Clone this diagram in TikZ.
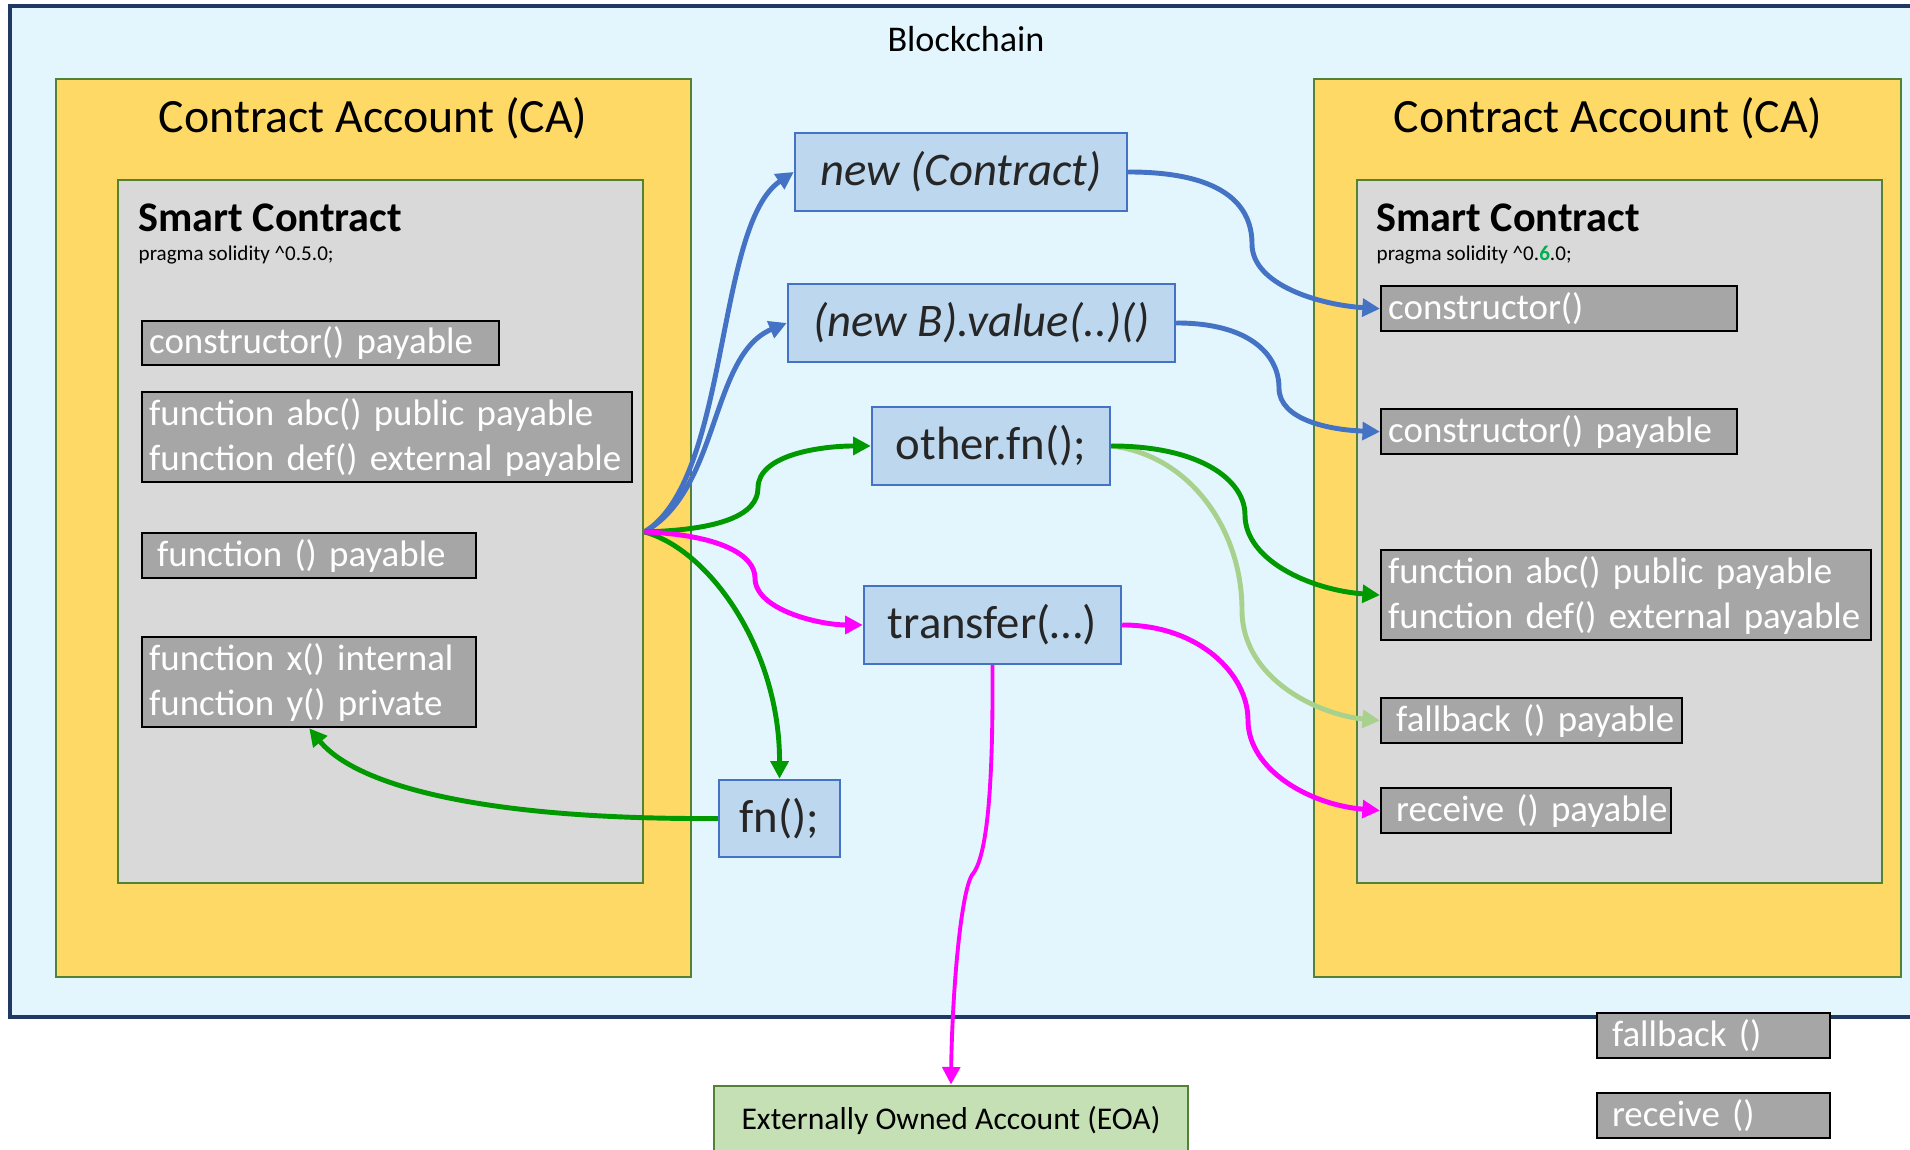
\documentclass[tikz,border=0pt]{standalone}
\usepackage{fontspec}
\setmainfont{Carlito}
\usepackage{tikz}
\usetikzlibrary{positioning, arrows.meta}
\definecolor{chainbg}{HTML}{E3F6FD}
\definecolor{chainline}{HTML}{203864}
\definecolor{cayellow}{HTML}{FFD966}
\definecolor{caline}{HTML}{548235}
\definecolor{scgray}{HTML}{D9D9D9}
\definecolor{fngray}{HTML}{A6A6A6}
\definecolor{callfill}{HTML}{BDD7EE}
\definecolor{callline}{HTML}{4472C4}
\definecolor{eoafill}{HTML}{C5E0B4}
\definecolor{newblue}{HTML}{4472C4}
\definecolor{callgreen}{HTML}{009900}
\definecolor{palegreen}{HTML}{A9D18E}
\definecolor{paymagenta}{HTML}{FF00FF}
\definecolor{versiongreen}{HTML}{00B050}
\tikzset{
  chainbox/.style={rectangle, draw=chainline, line width=1pt, fill=chainbg, inner sep=0pt},
  account/.style={rectangle, draw=caline, line width=0.8pt, fill=cayellow, inner sep=0pt},
  contract/.style={rectangle, draw=caline, line width=0.8pt, fill=scgray, inner sep=0pt},
  fnbox/.style={rectangle, draw=black, line width=0.7pt, fill=fngray, text=white, align=left, inner xsep=0.07cm, inner ysep=0pt, font=\fontsize{10.5}{12.8}\selectfont},
  call/.style={rectangle, draw=callline, line width=0.7pt, fill=callfill, text=black!85, inner sep=0pt, minimum height=0.78cm, font=\fontsize{13.3}{16}\selectfont},
  catitle/.style={inner sep=0pt, font=\fontsize{13.6}{16}\selectfont},
  sctitle/.style={anchor=west, inner sep=0pt, font=\bfseries\fontsize{12}{14}\selectfont},
  pragmatext/.style={anchor=west, inner sep=0pt, font=\fontsize{6}{7}\selectfont},
  arrow/.style={line width=1.4pt, -{Triangle[length=5pt,width=5pt]}}
}

\begin{document}
\begin{tikzpicture}
    \useasboundingbox (0,0) rectangle (19.10,11.5);

    \node (chain) [chainbox, minimum width=19.2cm, minimum height=10.11cm] at (9.70,6.385) {};
    \node (chaintitle) [inner sep=0pt, font=\fontsize{10.3}{12}\selectfont] at (9.66,11.11) {Blockchain};

    % left account
    \node (lca) [account, minimum width=6.35cm, minimum height=8.98cm] at (3.735,6.22) {};
    \node (lcatitle) [catitle] at (3.73,10.32) {Contract Account (CA)};
    \node (lsc) [contract, minimum width=5.25cm, minimum height=7.03cm] at (3.805,6.185) {};
    \node (lsctitle) [sctitle] at (1.38,9.32) {Smart Contract};
    \node (lpragma) [pragmatext] at (1.38,8.95) {pragma solidity \textasciicircum0.5.0;};

    \node (lc1) [fnbox, text width=3.43cm, minimum height=0.44cm, anchor=north west] at (1.41,8.30)
    {\mbox{constructor() payable}};
    \node (lf2) [fnbox, text width=4.76cm, minimum height=0.90cm, below=0.245cm of lc1.south west, anchor=north west]
    {function abc() public payable\\function def() external payable};
    \node (lf3) [fnbox, text width=3.20cm, minimum height=0.45cm, below=0.485cm of lf2.south west, anchor=north west]
    {\mbox{\hspace*{0.08cm}function () payable}};
    \node (lf4) [fnbox, text width=3.20cm, minimum height=0.90cm, below=0.565cm of lf3.south west, anchor=north west]
    {function x() internal\\function y() private};

    % right account
    \node (rca) [account, minimum width=5.87cm, minimum height=8.98cm] at (16.075,6.22) {};
    \node (rcatitle) [catitle] at (16.08,10.32) {Contract Account (CA)};
    \node (rsc) [contract, minimum width=5.25cm, minimum height=7.03cm] at (16.195,6.185) {};
    \node (rsctitle) [sctitle] at (13.76,9.32) {Smart Contract};
    \node (rpragma) [pragmatext] at (13.76,8.95) {pragma solidity \textasciicircum0.\textcolor{versiongreen}{\bfseries 6}.0;};

    \node (rc1) [fnbox, text width=3.42cm, minimum height=0.45cm, anchor=north west] at (13.80,8.65)
    {\mbox{constructor()}};
    \node (rc2) [fnbox, text width=3.42cm, minimum height=0.45cm, below=0.755cm of rc1.south west, anchor=north west]
    {\mbox{constructor() payable}};
    \node (rf3) [fnbox, text width=4.76cm, minimum height=0.90cm, below=0.935cm of rc2.south west, anchor=north west]
    {function abc() public payable\\function def() external payable};
    \node (rfb) [fnbox, text width=2.87cm, minimum height=0.45cm, below=0.555cm of rf3.south west, anchor=north west]
    {\mbox{\hspace*{0.08cm}fallback () payable}};
    \node (rrc) [fnbox, text width=2.76cm, minimum height=0.45cm, below=0.425cm of rfb.south west, anchor=north west]
    {\mbox{\hspace*{0.08cm}receive () payable}};

    % outside the chain
    \node (ofb) [fnbox, text width=2.19cm, minimum height=0.45cm] at (17.135,1.145) {\mbox{\hspace*{0.08cm}fallback ()}};
    \node (orc) [fnbox, text width=2.19cm, minimum height=0.45cm] at (17.135,0.345) {\mbox{\hspace*{0.08cm}receive ()}};
    \node (eoa) [rectangle, draw=caline, line width=0.8pt, fill=eoafill, inner sep=0pt, minimum width=4.74cm, minimum height=0.70cm, font=\fontsize{9}{11}\selectfont] at (9.51,0.29) {Externally Owned Account (EOA)};

    % calls
    \node (newc) [call, minimum width=3.32cm, font=\itshape\fontsize{13.3}{16}\selectfont] at (9.61,9.78) {new (Contract)};
    \node (newb) [call, minimum width=3.87cm, font=\itshape\fontsize{13.3}{16}\selectfont] at (9.815,8.27) {(new B).value(..)()};
    \node (other) [call, minimum width=2.38cm] at (9.91,7.04) {other.fn();};
    \node (transfer) [call, minimum width=2.57cm] at (9.925,5.25) {transfer(…)};
    \node (fn) [call, minimum width=1.21cm, minimum height=0.77cm] at (7.795,3.315) {fn();};

    \coordinate (src) at (lsc.east |- lf3.north);

    % Flechas
    \draw [arrow, newblue] (src) .. controls (7.3,6.7) and (7.15,9.25) .. (newc.west);
    \draw [arrow, newblue] (src) .. controls (7.2,6.6) and (7.1,7.95) .. (newb.west);
    \draw [arrow, newblue] (newc.east) .. controls (12.3,9.78) and (12.52,9.4) .. (12.52,9.06)
      .. controls (12.52,8.65) and (13.2,8.45) .. (rc1.west);
    \draw [arrow, newblue] (newb.east) .. controls (12.5,8.27) and (12.79,7.95) .. (12.79,7.62)
      .. controls (12.79,7.3) and (13.3,7.2) .. (rc2.west);

    \draw [arrow, palegreen] (other.east) .. controls (11.9,6.95) and (12.42,6.2) .. (12.42,5.4)
      .. controls (12.42,4.7) and (13.2,4.35) .. (rfb.west);
    \draw [arrow, callgreen] (src) .. controls (7.2,6.2) and (7.58,6.35) .. (7.58,6.62)
      .. controls (7.58,6.95) and (8.2,7.04) .. (other.west);
    \draw [arrow, callgreen] (other.east) .. controls (12.0,7.04) and (12.45,6.7) .. (12.45,6.35)
      .. controls (12.45,5.9) and (13.1,5.6) .. (rf3.west);
    \draw [arrow, callgreen] (src) .. controls (7.1,6.0) and (7.8,5.0) .. (fn.north);
    \draw [arrow, callgreen] (fn.west) .. controls (5.0,3.3) and (3.6,3.6) .. (lf4.south);

    \draw [arrow, paymagenta] (src) .. controls (7.2,6.15) and (7.55,5.95) .. (7.55,5.72)
      .. controls (7.55,5.4) and (8.2,5.25) .. (transfer.west);
    \draw [arrow, paymagenta] (transfer.east) .. controls (12.0,5.25) and (12.48,4.75) .. (12.48,4.3)
      .. controls (12.48,3.8) and (13.1,3.45) .. (rrc.west);
    \draw [arrow, paymagenta, line width=1.1pt] (transfer.south) .. controls (9.93,3.9) and (9.9,2.95) .. (9.72,2.75)
      .. controls (9.6,2.55) and (9.52,1.5) .. (eoa.north);

\end{tikzpicture}
\end{document}
